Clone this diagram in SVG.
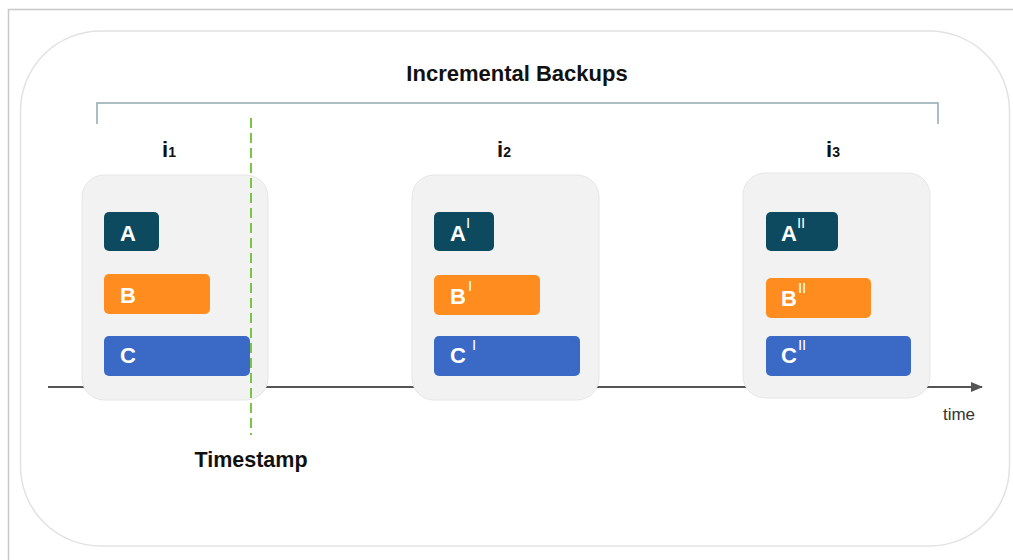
<svg xmlns="http://www.w3.org/2000/svg" width="1013" height="560" viewBox="0 0 1013 560">
<style>
.t{font-family:"Liberation Sans",Arial,sans-serif;font-weight:bold;fill:#111}
.lbl{font-family:"Liberation Sans",Arial,sans-serif;font-weight:bold;fill:#fff;font-size:22px}
.pr{font-weight:normal;font-size:15px}
.panel{fill:#f2f2f2;stroke:#e6e6e6;stroke-width:1}
.a{fill:#0e4a5f}.b{fill:#ff8c1e}.c{fill:#3a69c6}
</style>
<defs>
<marker id="arr" markerWidth="12" markerHeight="10" refX="11" refY="5" orient="auto" markerUnits="userSpaceOnUse">
<path d="M0,0 L12,5 L0,10 Z" fill="#555"/>
</marker>
</defs>
<rect width="1013" height="560" fill="#fff"/>
<path d="M8.5,560 V9.5 H1013" fill="none" stroke="#c8c8c8" stroke-width="1.5"/>
<rect x="20.5" y="31" width="989" height="515" rx="80" fill="#fff" stroke="#e2e2e2" stroke-width="1.5"/>
<text class="t" x="517" y="81" font-size="22" text-anchor="middle">Incremental Backups</text>
<path d="M97,124 V103 H938 V124" fill="none" stroke="#8fa9b1" stroke-width="1.5"/>
<g id="connectors">
<line x1="48" y1="387" x2="982" y2="387" stroke="#555" stroke-width="2" marker-end="url(#arr)"/>
</g>
<text class="t" x="162" y="157" font-size="22">i<tspan font-size="14">1</tspan></text>
<text class="t" x="497" y="157" font-size="22">i<tspan font-size="14">2</tspan></text>
<text class="t" x="826" y="157" font-size="22">i<tspan font-size="14">3</tspan></text>
<g id="i1">
<rect class="panel" x="82" y="175" width="186" height="225" rx="22"/>
<rect class="a" x="104" y="212" width="55" height="39" rx="5"/>
<rect class="b" x="104" y="274" width="106" height="40" rx="5"/>
<rect class="c" x="104" y="336" width="146" height="40" rx="5"/>
<text class="lbl" x="120" y="241">A</text>
<text class="lbl" x="120" y="303">B</text>
<text class="lbl" x="120" y="363">C</text>
</g>
<g id="i2">
<rect class="panel" x="412" y="175" width="187" height="225" rx="22"/>
<rect class="a" x="434" y="212" width="60" height="39" rx="5"/>
<rect class="b" x="434" y="275" width="106" height="40" rx="5"/>
<rect class="c" x="434" y="336" width="146" height="40" rx="5"/>
<text class="lbl" x="450" y="241">A<tspan class="pr" dy="-13">I</tspan></text>
<text class="lbl" x="450" y="304">B<tspan class="pr" dx="2" dy="-13">I</tspan></text>
<text class="lbl" x="450" y="363">C<tspan class="pr" dx="6" dy="-13">I</tspan></text>
</g>
<g id="i3">
<rect class="panel" x="743" y="173" width="187" height="225" rx="22"/>
<rect class="a" x="766" y="212" width="72" height="39" rx="5"/>
<rect class="b" x="766" y="278" width="105" height="40" rx="5"/>
<rect class="c" x="766" y="336" width="145" height="40" rx="5"/>
<text class="lbl" x="781" y="241">A<tspan class="pr" dy="-13">II</tspan></text>
<text class="lbl" x="781" y="306">B<tspan class="pr" dx="1" dy="-13">II</tspan></text>
<text class="lbl" x="781" y="363">C<tspan class="pr" dx="1" dy="-13">II</tspan></text>
</g>
<g id="timestamp">
<line x1="251" y1="118" x2="251" y2="435" stroke="#7cc444" stroke-width="2" stroke-dasharray="10,5"/>
<text class="t" x="251" y="467" font-size="21.5" text-anchor="middle">Timestamp</text>
</g>
<text x="959" y="420" font-family="Liberation Sans,Arial,sans-serif" font-size="17" fill="#333" text-anchor="middle">time</text>
</svg>
